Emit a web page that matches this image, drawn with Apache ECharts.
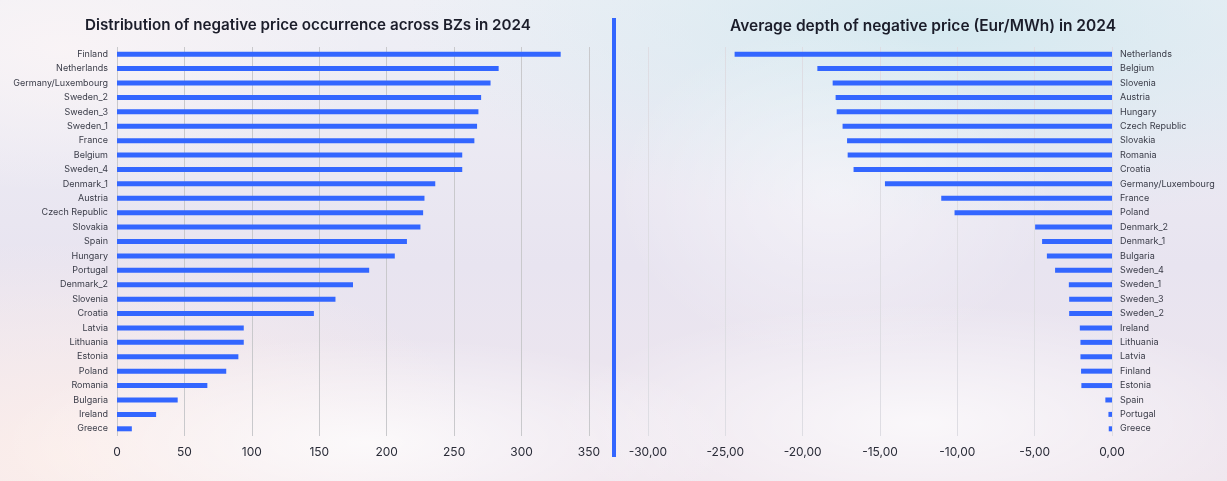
<!DOCTYPE html>
<html>
<head>
<meta charset="utf-8">
<script src="https://cdn.jsdelivr.net/npm/echarts@6/dist/echarts.min.js"></script>
<style>
  html, body { margin: 0; padding: 0; }
  body {
    width: 1227px; height: 481px; overflow: hidden;
    background:
      radial-gradient(ellipse 30% 22% at 30% 92%, rgba(255, 255, 255, 0.75), rgba(255, 255, 255, 0) 100%),
      radial-gradient(ellipse 30% 25% at 75% 88%, rgba(255, 255, 255, 0.7), rgba(255, 255, 255, 0) 100%),
      radial-gradient(ellipse 18% 35% at 68% 40%, rgba(255, 255, 255, 0.45), rgba(255, 255, 255, 0) 100%),
      radial-gradient(ellipse 45% 40% at 78% 6%, rgba(212, 233, 240, 0.95), rgba(212, 233, 240, 0) 100%),
      radial-gradient(ellipse 35% 45% at 5% 95%, rgba(252, 238, 234, 0.95), rgba(252, 238, 234, 0) 100%),
      radial-gradient(ellipse 25% 30% at 5% 10%, rgba(250, 244, 246, 0.9), rgba(250, 244, 246, 0) 100%),
      linear-gradient(180deg, #eff0f6 0%, #e8e4f0 55%, #efe6ee 100%);
  }
  #chart { width: 1227px; height: 481px; }
</style>
</head>
<body>
<div id="chart"></div>
<script>
// 左图：负电价出现次数
const countZones = ['Finland', 'Netherlands', 'Germany/Luxembourg', 'Sweden_2', 'Sweden_3', 'Sweden_1',
  'France', 'Belgium', 'Sweden_4', 'Denmark_1', 'Austria', 'Czech Republic', 'Slovakia', 'Spain',
  'Hungary', 'Portugal', 'Denmark_2', 'Slovenia', 'Croatia', 'Latvia', 'Lithuania', 'Estonia',
  'Poland', 'Romania', 'Bulgaria', 'Ireland', 'Greece']
const countValues = [329, 283, 277, 270, 268, 267, 265, 256, 256, 236, 228, 227, 225, 215,
  206, 187, 175, 162, 146, 94, 94, 90, 81, 67, 45, 29, 11]

// 右图：负电价平均深度 (Eur/MWh)
const depthZones = ['Netherlands', 'Belgium', 'Slovenia', 'Austria', 'Hungary', 'Czech Republic',
  'Slovakia', 'Romania', 'Croatia', 'Germany/Luxembourg', 'France', 'Poland', 'Denmark_2',
  'Denmark_1', 'Bulgaria', 'Sweden_4', 'Sweden_1', 'Sweden_3', 'Sweden_2', 'Ireland', 'Lithuania',
  'Latvia', 'Finland', 'Estonia', 'Spain', 'Portugal', 'Greece']
const depthValues = [-24.4, -19.05, -18.06, -17.87, -17.8, -17.42, -17.13, -17.09, -16.71, -14.68,
  -11.04, -10.18, -4.97, -4.52, -4.21, -3.68, -2.79, -2.77, -2.77, -2.08, -2.04, -2.04, -2.0,
  -1.98, -0.43, -0.23, -0.21]

const titles = ['Distribution of negative price occurrence across BZs in 2024',
  'Average depth of negative price (Eur/MWh) in 2024']

const FONT = 'Inter, "Noto Sans", sans-serif'
const BLUE = '#3366ff'

const myChart = echarts.init(document.getElementById('chart'))
const option = {
  backgroundColor: 'transparent',
  textStyle: { fontFamily: FONT },
  title: [
    {
      text: titles[0], left: 303, top: 13, textAlign: 'center',
      textStyle: { fontFamily: FONT, fontSize: 15.2, fontWeight: 600, color: '#1b1d2a' }
    },
    {
      text: titles[1], left: 918, top: 13, textAlign: 'center',
      textStyle: { fontFamily: FONT, fontSize: 15.5, fontWeight: 600, color: '#1b1d2a' }
    }
  ],
  // 两个并排的绘图区
  grid: [
    { left: 117, top: 47, width: 472, height: 389 },
    { left: 648, top: 47, width: 464, height: 389 }
  ],
  xAxis: [
    {
      gridIndex: 0, type: 'value', min: 0, max: 350, interval: 50,
      axisLine: { show: false }, axisTick: { show: false },
      splitLine: { lineStyle: { color: '#c9c9cc', width: 1 } },
      axisLabel: { fontSize: 12, color: '#2a2c38', margin: 10 }
    },
    {
      gridIndex: 1, type: 'value', min: -30, max: 0, interval: 5,
      axisLine: { show: false }, axisTick: { show: false },
      splitLine: { lineStyle: { color: '#dedde3', width: 1 } },
      axisLabel: {
        fontSize: 12, color: '#2a2c38', margin: 10,
        formatter: v => v.toFixed(2).replace('.', ',')
      }
    }
  ],
  yAxis: [
    {
      gridIndex: 0, type: 'category', data: countZones, inverse: true,
      axisLine: { show: false }, axisTick: { show: false },
      axisLabel: { fontSize: 9, color: '#3a3c48', margin: 9 }
    },
    {
      gridIndex: 1, type: 'category', data: depthZones, inverse: true, position: 'right',
      axisLine: { show: false }, axisTick: { show: false },
      axisLabel: { fontSize: 9, color: '#3a3c48', margin: 8 }
    }
  ],
  series: [
    {
      type: 'bar', xAxisIndex: 0, yAxisIndex: 0, data: countValues,
      barWidth: 5, itemStyle: { color: BLUE }
    },
    {
      type: 'bar', xAxisIndex: 1, yAxisIndex: 1, data: depthValues,
      barWidth: 5, itemStyle: { color: BLUE }
    }
  ],
  // 中间的蓝色分隔线
  graphic: [
    {
      type: 'rect', left: 612, top: 18,
      shape: { width: 4, height: 439 },
      style: { fill: BLUE }
    }
  ]
}
myChart.setOption(option)
</script>
</body>
</html>
